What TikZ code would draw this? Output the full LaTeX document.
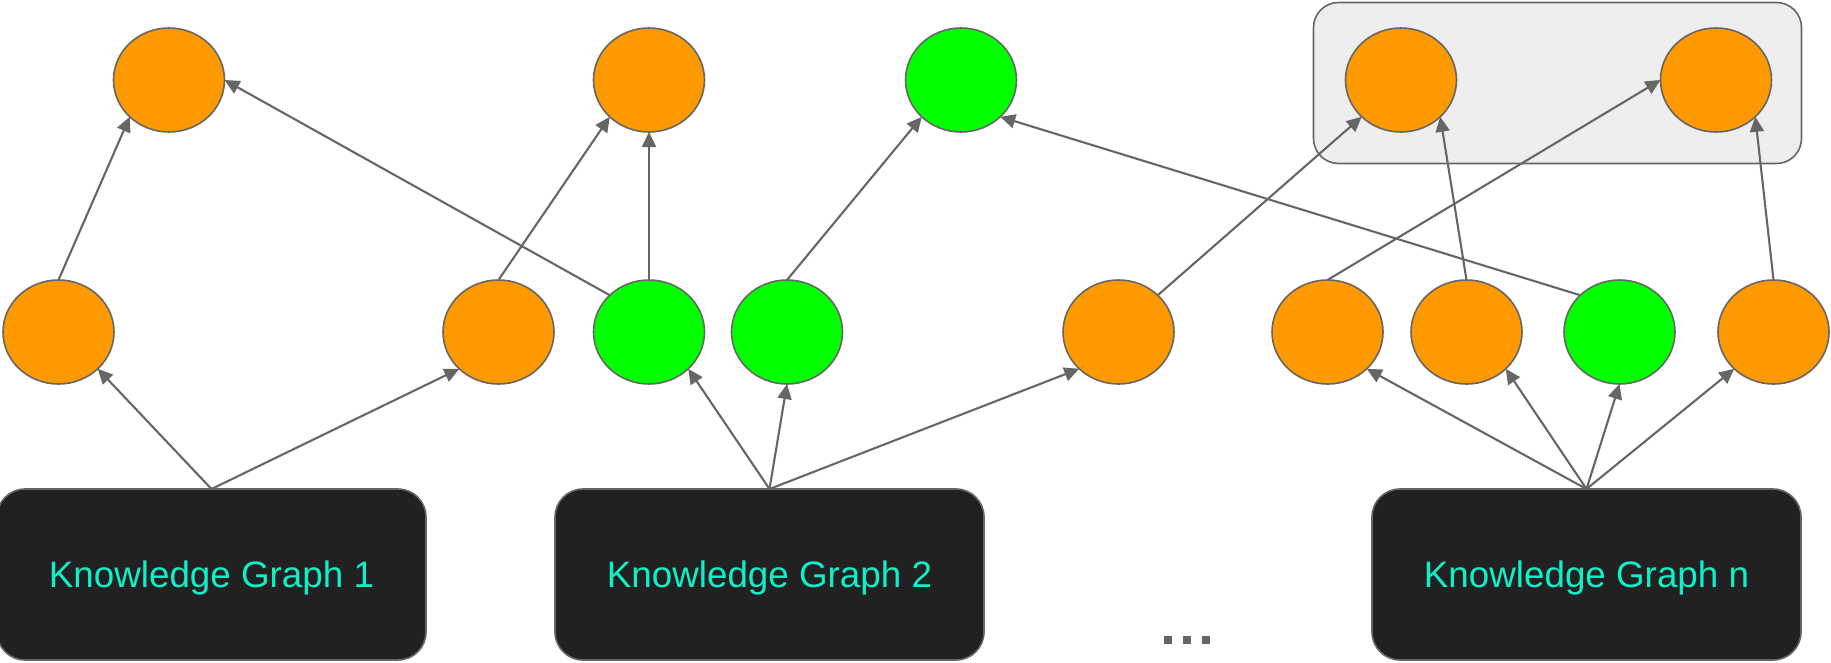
\documentclass[tikz,border=0pt]{standalone}
\usepackage{fontspec}
\setmainfont{Liberation Sans}
\usetikzlibrary{shapes.geometric,arrows.meta}
\definecolor{orng}{HTML}{FF9900}
\definecolor{grn}{HTML}{00FF00}
\definecolor{edgec}{HTML}{666666}
\definecolor{kgfill}{HTML}{212121}
\definecolor{kgtext}{HTML}{10F0C8}
\definecolor{grpfill}{HTML}{EEEEEE}
\begin{document}
\begin{tikzpicture}[x=1pt,y=-1pt,
  ent/.style={ellipse, draw=edgec, line width=1.6pt, minimum width=111pt, minimum height=104pt, inner sep=0pt, outer sep=0pt},
  orgent/.style={ent, fill=orng},
  grnent/.style={ent, fill=grn},
  kg/.style={draw=edgec, line width=1.6pt, fill=kgfill, rounded corners=28pt, minimum width=429pt, minimum height=171pt, text=kgtext, font=\fontsize{36.8}{40}\selectfont, text depth=0pt, inner sep=0pt, outer sep=0pt},
  link/.style={draw=edgec, line width=2.1pt, -{Triangle[length=15pt,width=14pt]}},
  dotbox/.style={fill=edgec, minimum size=8pt, inner sep=0pt}
]
\useasboundingbox (0,0) rectangle (1831,662);

% group box
\node[draw=edgec, fill=grpfill, line width=1.6pt, rounded corners=25pt, minimum width=488pt, minimum height=161pt, inner sep=0pt] (grp) at (1557.5,83) {};

% top row
\node[orgent] (t1) at (169,80) {};
\node[orgent] (t2) at (649,80) {};
\node[grnent] (t3) at (961,80) {};
\node[orgent] (t4) at (1401,80) {};
\node[orgent] (t5) at (1716,80) {};

% middle row
\node[orgent] (m1) at (58.5,332) {};
\node[orgent] (m2) at (498.5,332) {};
\node[grnent] (m3) at (649,332) {};
\node[grnent] (m4) at (787,332) {};
\node[orgent] (m5) at (1118.5,332) {};
\node[orgent] (m6) at (1327.5,332) {};
\node[orgent] (m7) at (1466.5,332) {};
\node[grnent] (m8) at (1619.5,332) {};
\node[orgent] (m9) at (1773.5,332) {};

% knowledge graphs
\node[kg] (kg1) at (211.5,574.5) {Knowledge Graph 1};
\node[kg] (kg2) at (769.5,574.5) {Knowledge Graph 2};
\node[kg] (kg3) at (1586.5,574.5) {Knowledge Graph n};

% dots
\node[dotbox] (d1) at (1168,639.5) {};
\node[dotbox] (d2) at (1187,639.5) {};
\node[dotbox] (d3) at (1206,639.5) {};

% edges from knowledge graphs
\draw[link] (kg1.north) -- (m1.south east);
\draw[link] (kg1.north) -- (m2.south west);
\draw[link] (kg2.north) -- (m3.south east);
\draw[link] (kg2.north) -- (m4.south);
\draw[link] (kg2.north) -- (m5.south west);
\draw[link] (kg3.north) -- (m6.south east);
\draw[link] (kg3.north) -- (m7.south east);
\draw[link] (kg3.north) -- (m8.south);
\draw[link] (kg3.north) -- (m9.south west);

% middle to top
\draw[link] (m1.north) -- (t1.south west);
\draw[link] (m3.north west) -- (t1.east);
\draw[link] (m2.north) -- (t2.south west);
\draw[link] (m3.north) -- (t2.south);
\draw[link] (m4.north) -- (t3.south west);
\draw[link] (m5.north east) -- (t4.south west);
\draw[link] (m6.north) -- (t5.west);
\draw[link] (m7.north) -- (t4.south east);
\draw[link] (m8.north west) -- (t3.south east);
\draw[link] (m9.north) -- (t5.south east);
\end{tikzpicture}
\end{document}
